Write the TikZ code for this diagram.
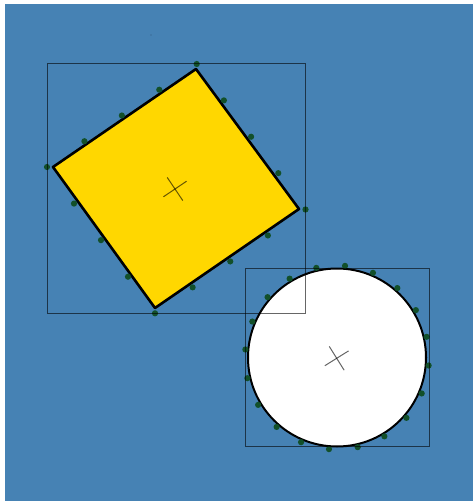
\documentclass[tikz,border=0pt]{standalone}
\usetikzlibrary{calc}
\definecolor{bgblue}{RGB}{70,130,180}
\definecolor{goldfill}{RGB}{255,215,0}
\definecolor{dotgreen}{RGB}{18,80,42}
\begin{document}
\begin{tikzpicture}[x=1pt,y=-1pt,
  dotmark/.style={fill=dotgreen},
  bbox/.style={draw=black,draw opacity=0.6,line width=1pt},
  crossmark/.style={draw=black,draw opacity=0.6,line width=1pt}]
\useasboundingbox (0,0) rectangle (473,503);
\fill[white] (0,0) rectangle (473,503);
\fill[bgblue] (5,4) rectangle (473,501);
\fill[black,opacity=0.3] (151,35) circle (0.7);
% square
\coordinate (T) at (196,69);
\coordinate (R) at (299,209);
\coordinate (B) at (155,308);
\coordinate (L) at (53,167);
\coordinate (DT) at (196.7,64);
\coordinate (DR) at (305.5,209.5);
\coordinate (DB) at (155,313.3);
\coordinate (DL) at (47,167);
\coordinate (sc) at (175,189);
\filldraw[fill=goldfill,draw=black,line width=2.6pt,line join=round] (T) -- (R) -- (B) -- (L) -- cycle;
% circle
\coordinate (cc) at (337,357.5);
\filldraw[fill=white,draw=black,line width=2pt] (cc) circle (89);
% dots
\foreach \p/\q in {DT/DR,DR/DB,DB/DL,DL/DT}
  \foreach \f in {0,0.25,0.5,0.75}
    \fill[dotmark] ($(\p)!\f!(\q)$) circle (3.1);
\foreach \k in {0,...,19}
  \fill[dotmark] ($(cc)+({5+18*\k}:92)$) circle (3.1);
% crosses
\draw[crossmark] ($(sc)+(-34:14)$) -- ($(sc)+(146:14)$);
\draw[crossmark] ($(sc)+(56:14)$) -- ($(sc)+(236:14)$);
\coordinate (cx) at (336.7,358.3);
\draw[crossmark] ($(cx)+(-32:14)$) -- ($(cx)+(148:14)$);
\draw[crossmark] ($(cx)+(58:14)$) -- ($(cx)+(238:14)$);
% bounding boxes
\draw[bbox] (47,64) rectangle (305.5,313.3);
\draw[bbox] (245,268.3) rectangle (429.3,446.7);
\end{tikzpicture}
\end{document}
